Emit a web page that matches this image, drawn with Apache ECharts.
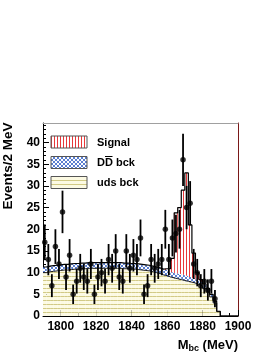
<!DOCTYPE html>
<html><head><meta charset="utf-8">
<script src="https://cdn.jsdelivr.net/npm/echarts@6/dist/echarts.min.js"></script>
<style>html,body{margin:0;padding:0;background:#fff}#c{width:274px;height:355px}</style>
</head><body><div id="c"></div>
<script>
// ---- data (2 MeV bins, 1790-1900) ----
const binCenters = [1791,1793,1795,1797,1799,1801,1803,1805,1807,1809,
  1811,1813,1815,1817,1819,1821,1823,1825,1827,1829,
  1831,1833,1835,1837,1839,1841,1843,1845,1847,1849,
  1851,1853,1855,1857,1859,1861,1863,1865,1867,1869,
  1871,1873,1875,1877,1879,1881,1883,1885,1887,1889,
  1891,1893,1895,1897,1899];
const dataCounts = [17,13,7,16,12,24,9,14,5,8,
  11,9,8,12,5,9,10,8,13,11,
  15,9,8,15,11,14,13,18,5,7,
  13,11,12,13,20,13,18,19,20,36,
  25,26,12,10,7,8,6,8,4,null,
  null,null,null,null,null];
const udsBck = [10.0,10.2,10.3,10.4,10.5,10.6,10.6,10.7,10.8,10.8,
  10.9,10.9,11.0,11.0,11.0,11.0,11.0,11.0,11.0,11.0,
  11.0,11.0,10.9,10.9,10.8,10.8,10.7,10.6,10.5,10.4,
  10.2,10.0,9.8,9.5,9.3,9.0,8.8,8.6,8.4,8.2,
  8.0,7.8,7.6,7.3,6.9,6.3,5.5,4.4,3.0,1.0,
  0,0,0,0,0];
const ddBck = [1.3,1.3,1.3,1.3,1.3,1.3,1.3,1.3,1.3,1.3,
  1.3,1.3,1.3,1.3,1.3,1.3,1.3,1.3,1.3,1.3,
  1.3,1.3,1.3,1.3,1.3,1.3,1.3,1.3,1.3,1.3,
  1.3,1.3,1.3,1.3,1.3,1.3,1.3,1.3,1.3,1.3,
  1.3,1.2,1.2,1.1,1.0,0.9,0.8,0.6,0.4,0.1,
  0,0,0,0,0];
const signal = [0,0,0,0,0,0,0,0,0,0,
  0,0,0,0,0,0,0,0,0,0,
  0,0,0,0,0,0,0,0,0,0,
  0,0,0,0,0.3,0.6,3.2,13.9,15.3,19.5,
  23.7,12.0,5.7,1.6,0.5,0.2,0,0,0,0,
  0,0,0,0,0];
const xTickLabels = [1800,1820,1840,1860,1880,1900];
const xMinorTicks = [1790,1795,1800,1805,1810,1815,1820,1825,1830,1835,1840,1845,1850,1855,1860,1865,1870,1875,1880,1885,1890,1895,1900];
const yTickLabels = [0,5,10,15,20,25,30,35,40];
const yMinorTicks = [0,1,2,3,4,5,6,7,8,9,10,11,12,13,14,15,16,17,18,19,20,21,22,23,24,25,26,27,28,29,30,31,32,33,34,35,36,37,38,39,40,41,42,43,44];
const legendNames = ['Signal','DD bck','uds bck'];
const BIN_HALF = 1;

// ---- hatch patterns ----
function makePattern(w,h,draw){const c=document.createElement('canvas');c.width=w;c.height=h;const g=c.getContext('2d');draw(g);return {image:c,repeat:'repeat'};}
const sigPat = makePattern(3,1,g=>{g.fillStyle='#ffffff';g.fillRect(0,0,3,1);g.fillStyle='#e8383a';g.fillRect(0,0,1,1);});
const ddPat = makePattern(4,4,g=>{g.fillStyle='#ffffff';g.fillRect(0,0,4,4);g.fillStyle='#5a7ed0';for(let i=0;i<4;i++){g.fillRect(i,i,1,1);g.fillRect(3-i,i,1,1);}});
const udsPat = makePattern(1,4,g=>{g.fillStyle='#fcfae3';g.fillRect(0,0,1,4);g.fillStyle='#d2ca86';g.fillRect(0,0,1,1);});

const stackData = binCenters.map((c,i)=>[c,udsBck[i],ddBck[i],signal[i]]);
const udsTop = binCenters.map((c,i)=>[c-BIN_HALF,udsBck[i]]); udsTop.push([binCenters[binCenters.length-1]+BIN_HALF,udsBck[udsBck.length-1]]);
const totalTop = binCenters.map((c,i)=>[c-BIN_HALF,udsBck[i]+ddBck[i]+signal[i]]); totalTop.push([binCenters[binCenters.length-1]+BIN_HALF,0]);
const pts = binCenters.map((c,i)=>[c,dataCounts[i]]).filter(p=>p[1]!=null);

const chart = echarts.init(document.getElementById('c'),null,{renderer:'canvas'});
const FONT = 'Liberation Sans, Arial, Helvetica, sans-serif';
const plain = v => String(v);
const axBase = {min:1790,max:1900,type:'value',splitLine:{show:false}};
const ayBase = {min:0,max:44.5,type:'value',splitLine:{show:false}};
chart.setOption({
  animation:false,
  grid:{left:43,right:36,top:123,bottom:39,containLabel:false},
  xAxis:[
    Object.assign({},axBase,{position:'bottom',axisLine:{show:true,onZero:false,lineStyle:{color:'#000',width:1}},
      axisTick:{show:true,inside:true,length:6,customValues:xTickLabels,lineStyle:{color:'#000'}},
      axisLabel:{show:true,customValues:xTickLabels,formatter:plain,color:'#000',fontSize:12,fontWeight:'bold',fontFamily:FONT,margin:5}}),
    Object.assign({},axBase,{position:'bottom',axisLine:{show:false},
      axisTick:{show:true,inside:true,length:3,customValues:xMinorTicks,lineStyle:{color:'#000'}},axisLabel:{show:false}}),
    Object.assign({},axBase,{position:'top',axisLine:{show:true,onZero:false,lineStyle:{color:'#a0a0a0',width:1}},axisTick:{show:false},axisLabel:{show:false}})
  ],
  yAxis:[
    Object.assign({},ayBase,{position:'left',axisLine:{show:true,onZero:false,lineStyle:{color:'#000',width:1}},
      axisTick:{show:true,inside:true,length:6,customValues:yTickLabels,lineStyle:{color:'#000'}},
      axisLabel:{show:true,customValues:yTickLabels,formatter:plain,color:'#000',fontSize:12,fontWeight:'bold',fontFamily:FONT,margin:3}}),
    Object.assign({},ayBase,{position:'left',axisLine:{show:false},
      axisTick:{show:true,inside:true,length:3,customValues:yMinorTicks,lineStyle:{color:'#000'}},axisLabel:{show:false}}),
    Object.assign({},ayBase,{position:'right',axisLine:{show:true,onZero:false,lineStyle:{color:'#7a1818',width:1}},axisTick:{show:false},axisLabel:{show:false}})
  ],
  series:[
    {type:'custom',silent:true,z:1,clip:true,data:stackData,encode:{x:0,y:1},
     renderItem:(params,api)=>{
       const c=api.value(0),u=api.value(1),d=api.value(2),s=api.value(3);
       const lo=c-BIN_HALF,hi=c+BIN_HALF,ch=[];
       const rect=(b,t,fill)=>{if(t<=b)return;const p0=api.coord([lo,t]),p1=api.coord([hi,b]);
         ch.push({type:'rect',shape:{x:p0[0],y:p0[1],width:p1[0]-p0[0],height:p1[1]-p0[1]},style:{fill:fill}});};
       rect(0,u,udsPat);rect(u,u+d,ddPat);rect(u+d,u+d+s,sigPat);
       return {type:'group',children:ch};
     }},
    {type:'line',step:'end',data:udsTop,symbol:'none',silent:true,z:2,lineStyle:{color:'#1a1a1a',width:1}},
    {type:'line',step:'end',data:totalTop,symbol:'none',silent:true,z:3,lineStyle:{color:'#000',width:1.2}},
    {type:'custom',silent:true,z:4,data:pts,encode:{x:0,y:1},
     renderItem:(params,api)=>{
       const c=api.value(0),n=api.value(1),e=Math.sqrt(n);
       const a=api.coord([c,n-e]),b=api.coord([c,n+e]);
       return {type:'line',shape:{x1:a[0],y1:a[1],x2:b[0],y2:b[1]},style:{stroke:'#000',lineWidth:1.8}};
     }},
    {type:'scatter',data:pts,symbol:'circle',symbolSize:5.5,silent:true,z:5,itemStyle:{color:'#000'}}
  ],
  graphic:[
    {type:'text',x:8,y:166,rotation:Math.PI/2,style:{text:'Events/2 MeV',fill:'#000',font:'bold 13.5px '+FONT,align:'center',verticalAlign:'middle'}},
    {type:'text',x:238,y:345,style:{text:'{m|M}{s|bc}{m| (MeV)}',align:'right',verticalAlign:'middle',
      rich:{m:{fontSize:13,fontWeight:'bold',fontFamily:FONT,fill:'#000'},s:{fontSize:9,fontWeight:'bold',fontFamily:FONT,fill:'#000',padding:[7,0,0,0]}}}},
    {type:'rect',shape:{x:51,y:136,width:36,height:12},style:{fill:sigPat,stroke:'#555',lineWidth:1}},
    {type:'rect',shape:{x:51,y:156.5,width:36,height:12},style:{fill:ddPat,stroke:'#555',lineWidth:1}},
    {type:'rect',shape:{x:51,y:176.5,width:36,height:12},style:{fill:udsPat,stroke:'#555',lineWidth:1}},
    {type:'text',x:97,y:143,style:{text:legendNames[0],fill:'#000',font:'bold 11px '+FONT,verticalAlign:'middle'}},
    {type:'text',x:97,y:163,style:{text:legendNames[1],fill:'#000',font:'bold 11px '+FONT,verticalAlign:'middle'}},
    {type:'line',shape:{x1:105,y1:156.5,x2:112.5,y2:156.5},style:{stroke:'#000',lineWidth:1}},
    {type:'text',x:97,y:183,style:{text:legendNames[2],fill:'#000',font:'bold 11px '+FONT,verticalAlign:'middle'}}
  ]
});
</script></body></html>
